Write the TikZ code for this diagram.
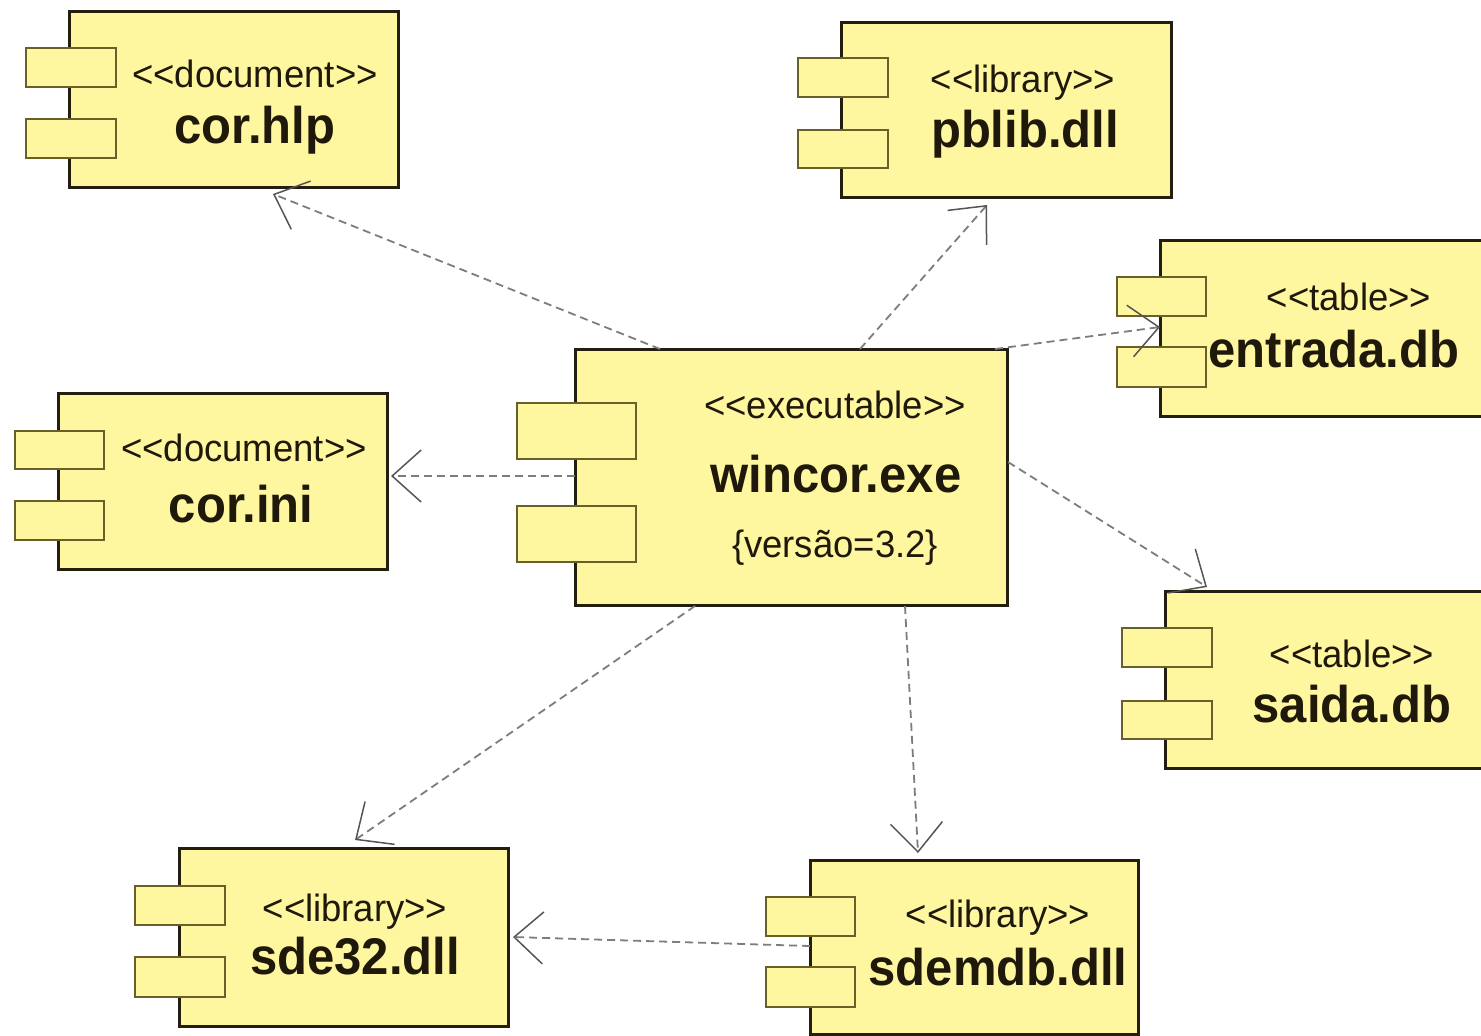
\documentclass[tikz,border=0pt]{standalone}
\usepackage{fontspec}
\setmainfont{Liberation Sans}
\newfontfamily\stfont[FakeStretch=0.96,Ligatures=TeXOff]{Liberation Sans}
\newfontfamily\nmfont[FakeStretch=0.95]{Liberation Sans}
\usetikzlibrary{arrows.meta,fit}
\definecolor{fillY}{RGB}{255,246,160}
\definecolor{edgeD}{RGB}{35,30,15}
\definecolor{portE}{RGB}{105,95,40}
\definecolor{lineG}{RGB}{125,125,125}
\definecolor{tipG}{RGB}{85,85,85}
\definecolor{txtC}{RGB}{30,25,10}
\tikzset{
  mainbox/.style={draw=edgeD, fill=fillY, line width=1.5pt, inner sep=0pt, outer sep=0pt},
  portbox/.style={draw=portE, fill=fillY, line width=0.8pt, inner sep=0pt, outer sep=0pt},
  stereo/.style={anchor=base, inner sep=0pt, text=txtC, font=\stfont\fontsize{19pt}{22pt}\selectfont},
  cname/.style={anchor=base, inner sep=0pt, text=txtC, font=\nmfont\bfseries\fontsize{25.8pt}{30pt}\selectfont},
  dep/.style={draw=lineG, line width=0.9pt, dash pattern=on 4pt off 2.5pt,
    -{Straight Barb[length=14.5pt,width=26pt,line width=0.75pt,color=tipG]}},
}
\begin{document}
\begin{tikzpicture}[x=0.5pt,y=-0.5pt]
\useasboundingbox (0,0) rectangle (1481,1035);
\clip (0,0) rectangle (1481,1035);
\fill[white] (0,0) rectangle (1481,1035);

% cor.hlp
\node[mainbox, fit={(69,11)(398,187)}] (corhlp) {};
\node[portbox, fit={(26,48)(116,87)}] (corhlpA) {};
\node[portbox, fit={(26,119)(116,158)}] (corhlpB) {};
\node[stereo] (corhlpS) at (255,87) {<<document>>};
\node[cname] (corhlpN) at (255,143) {cor.hlp};

% pblib.dll
\node[mainbox, fit={(841,22)(1171,197)}] (pblib) {};
\node[portbox, fit={(798,58)(888,97)}] (pblibA) {};
\node[portbox, fit={(798,130)(888,168)}] (pblibB) {};
\node[stereo] (pblibS) at (1023,92) {<<library>>};
\node[cname] (pblibN) at (1025,147) {pblib.dll};

% entrada.db
\node[mainbox, fit={(1160,240)(1520,416)}] (entrada) {};
\node[portbox, fit={(1117,277)(1206,316)}] (entradaA) {};
\node[portbox, fit={(1117,347)(1206,387)}] (entradaB) {};
\node[stereo] (entradaS) at (1349,310) {<<table>>};
\node[cname] (entradaN) at (1334,367) {entrada.db};

% cor.ini
\node[mainbox, fit={(58,393)(387,569)}] (corini) {};
\node[portbox, fit={(15,431)(104,469)}] (coriniA) {};
\node[portbox, fit={(15,501)(104,540)}] (coriniB) {};
\node[stereo] (coriniS) at (244,461) {<<document>>};
\node[cname] (coriniN) at (241,522) {cor.ini};

% wincor.exe
\node[mainbox, fit={(575,349)(1007,605)}] (wincor) {};
\node[portbox, fit={(517,403)(636,459)}] (wincorA) {};
\node[portbox, fit={(517,506)(636,562)}] (wincorB) {};
\node[stereo] (wincorS) at (835,418) {<<executable>>};
\node[cname] (wincorN) at (836,492) {wincor.exe};
\node[stereo] (wincorV) at (835,557) {\{versão=3.2\}};

% saida.db
\node[mainbox, fit={(1165,591)(1520,768)}] (saida) {};
\node[portbox, fit={(1122,628)(1212,667)}] (saidaA) {};
\node[portbox, fit={(1122,701)(1212,739)}] (saidaB) {};
\node[stereo] (saidaS) at (1352,667) {<<table>>};
\node[cname] (saidaN) at (1352,722) {saida.db};

% sde32.dll
\node[mainbox, fit={(179,848)(508,1026)}] (sde) {};
\node[portbox, fit={(135,886)(225,925)}] (sdeA) {};
\node[portbox, fit={(135,957)(225,997)}] (sdeB) {};
\node[stereo] (sdeS) at (355,921) {<<library>>};
\node[cname] (sdeN) at (355,974) {sde32.dll};

% sdemdb.dll
\node[mainbox, fit={(810,860)(1138,1034)}] (sdemdb) {};
\node[portbox, fit={(766,897)(855,936)}] (sdemdbA) {};
\node[portbox, fit={(766,967)(855,1007)}] (sdemdbB) {};
\node[stereo] (sdemdbS) at (998,927) {<<library>>};
\node[cname] (sdemdbN) at (998,985) {sdemdb.dll};

% connector ends
\coordinate (s1) at (660,349);  \coordinate (t1) at (273,194);
\coordinate (s2) at (860,349);  \coordinate (t2) at (987,205);
\coordinate (s3) at (995,349);  \coordinate (t3) at (1160,327);
\coordinate (s4) at (575,476);  \coordinate (t4) at (391,476);
\coordinate (s5) at (1008,462); \coordinate (t5) at (1207,587);
\coordinate (s6) at (695,606);  \coordinate (t6) at (355,840);
\coordinate (s7) at (905,606);  \coordinate (t7) at (918,853);
\coordinate (s8) at (810,946);  \coordinate (t8) at (513,937);

\draw[dep] (s1) -- (t1);
\draw[dep] (s2) -- (t2);
\draw[dep] (s3) -- (t3);
\draw[dep] (s4) -- (t4);
\draw[dep] (s5) -- (t5);
\draw[dep] (s6) -- (t6);
\draw[dep] (s7) -- (t7);
\draw[dep] (s8) -- (t8);
\end{tikzpicture}
\end{document}
